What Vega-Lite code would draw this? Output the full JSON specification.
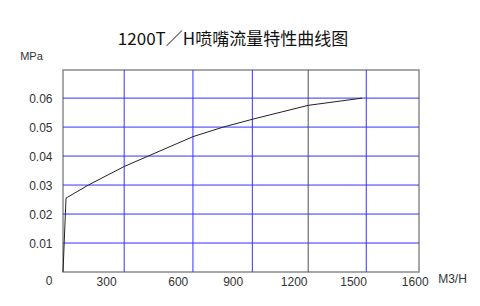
{
  "$schema": "https://vega.github.io/schema/vega-lite/v6.json",
  "width": 356,
  "height": 202,
  "autosize": {"type": "none"},
  "padding": {"left": 63, "top": 70, "right": 61, "bottom": 34},
  "background": "white",
  "config": {
    "view": {"stroke": "#8a8a8a", "strokeWidth": 1.5},
    "font": "Liberation Sans"
  },
  "title": {
    "text": "1200T／H喷嘴流量特性曲线图",
    "font": "Noto Sans CJK SC",
    "fontSize": 17,
    "fontWeight": "normal",
    "color": "#111",
    "anchor": "middle",
    "frame": "group",
    "dx": -8,
    "dy": 9,
    "offset": 10
  },
  "datasets": {
    "curve": [
      {"flow": 0, "p": 0},
      {"flow": 13.5, "p": 0.0255},
      {"flow": 114, "p": 0.03},
      {"flow": 275, "p": 0.0364},
      {"flow": 383, "p": 0.04},
      {"flow": 584, "p": 0.0467},
      {"flow": 720, "p": 0.05},
      {"flow": 851, "p": 0.0527},
      {"flow": 1102, "p": 0.0575},
      {"flow": 1345, "p": 0.06}
    ],
    "grid": [
      {"flow": 275},
      {"flow": 584},
      {"flow": 851},
      {"flow": 1102},
      {"flow": 1363}
    ],
    "hgrid": [
      {"p": 0.01},
      {"p": 0.02},
      {"p": 0.03},
      {"p": 0.04},
      {"p": 0.05},
      {"p": 0.06}
    ],
    "xlabels": [
      {"flow": 196, "label": "300"},
      {"flow": 518, "label": "600"},
      {"flow": 765, "label": "900"},
      {"flow": 1039, "label": "1200"},
      {"flow": 1306, "label": "1500"},
      {"flow": 1583, "label": "1600"}
    ]
  },
  "encoding": {
    "x": {
      "field": "flow",
      "type": "quantitative",
      "scale": {"domain": [0, 1600], "nice": false, "zero": false},
      "axis": {
        "title": "M3/H",
        "labels": false,
        "ticks": false,
        "domain": false,
        "grid": false,
        "titleAngle": 0,
        "titleX": 389,
        "titleY": 6,
        "titleAlign": "center",
        "titleBaseline": "middle",
        "titleFontSize": 12,
        "titleFontWeight": "normal",
        "titleColor": "#333",
        "titlePadding": 0
      }
    }
  },
  "layer": [
    {
      "data": {"name": "hgrid"},
      "mark": {"type": "rule", "strokeWidth": 1, "color": "#3333ff"},
      "encoding": {
        "x": null,
        "y": {"field": "p", "type": "quantitative"}
      }
    },
    {
      "data": {"name": "grid"},
      "mark": {"type": "rule", "strokeWidth": 1},
      "encoding": {
        "color": {
          "condition": {"test": "datum.flow == 1102", "value": "#505050"},
          "value": "#3333ff"
        }
      }
    },
    {
      "data": {"name": "curve"},
      "mark": {"type": "line", "color": "#222", "strokeWidth": 1},
      "encoding": {
        "y": {
          "field": "p",
          "type": "quantitative",
          "scale": {"domain": [0, 0.0697], "nice": false},
          "axis": {
            "values": [0, 0.01, 0.02, 0.03, 0.04, 0.05, 0.06],
            "tickCount": 20,
            "labelExpr": "datum.value == 0 ? '0' : format(datum.value, '.2f')",
            "title": "MPa",
            "titleAngle": 0,
            "titleX": -32,
            "titleY": -14,
            "titleAlign": "center",
            "titleBaseline": "middle",
            "titleFontSize": 11,
            "titleFontWeight": "normal",
            "titleColor": "#333",
            "ticks": false,
            "domain": false,
            "grid": false,
            "labelPadding": 11,
            "labelFontSize": 12,
            "labelColor": "#333",
            "labelOverlap": false,
            "labelFlush": false,
            "labelOffset": {"condition": {"test": "datum.value == 0", "value": 8}, "value": 0}
          }
        }
      }
    },
    {
      "data": {"name": "xlabels"},
      "mark": {"type": "text", "dy": 10, "fontSize": 12, "color": "#333", "baseline": "middle"},
      "encoding": {
        "y": {"datum": 0, "type": "quantitative"},
        "text": {"field": "label"}
      }
    }
  ]
}
